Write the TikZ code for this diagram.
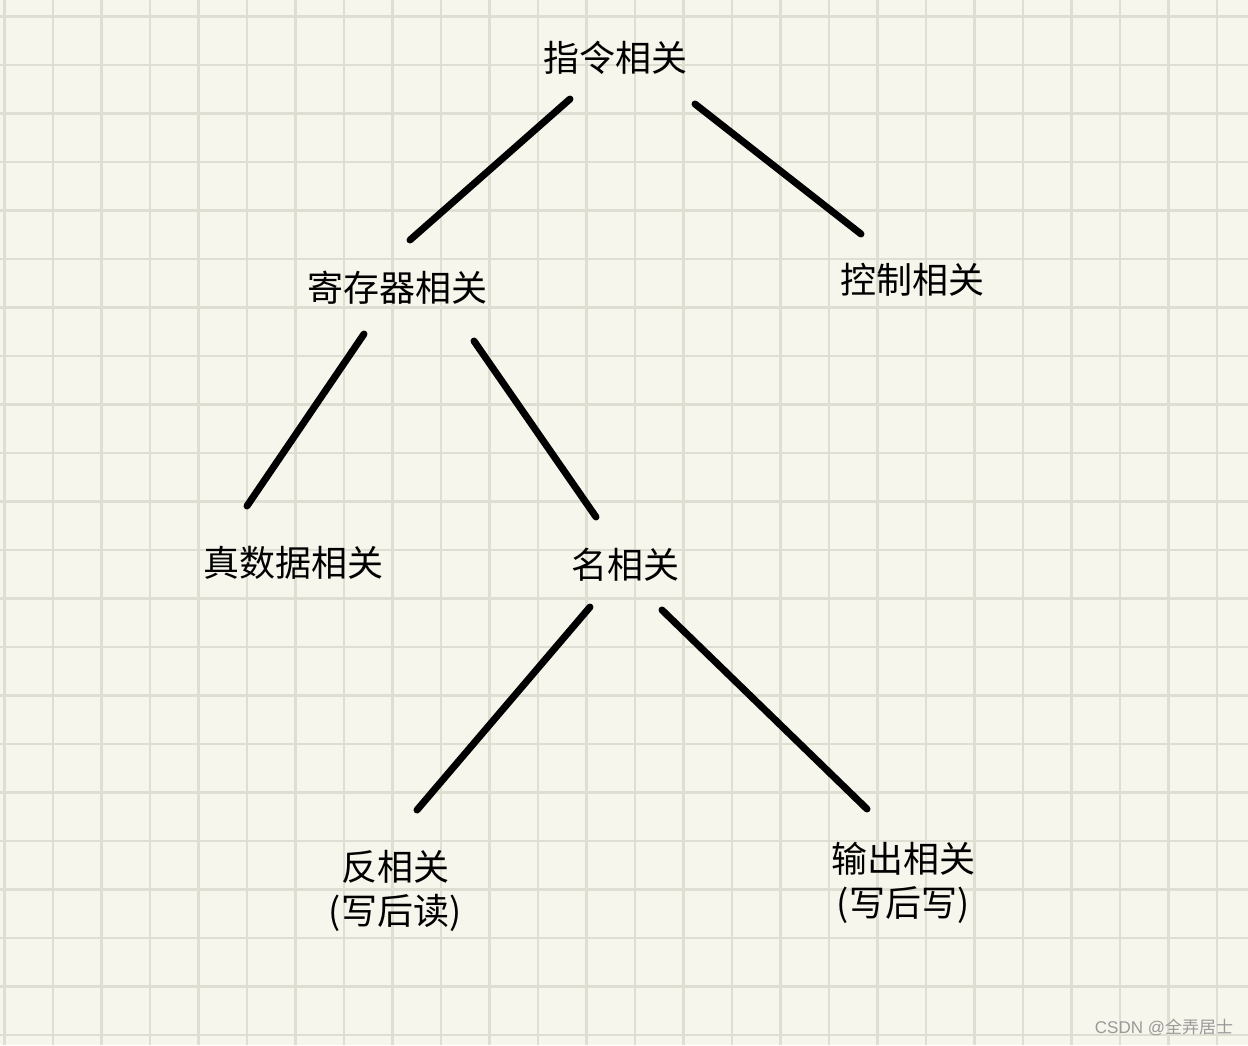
\documentclass[tikz,border=0pt]{standalone}
\usepackage{fontspec}
\newfontfamily\cjk{Noto Sans CJK SC}
\definecolor{paper}{HTML}{F7F6EC}
\definecolor{gridc}{HTML}{DEDED3}
\begin{document}
\begin{tikzpicture}[x=1pt,y=-1pt,
  lbl/.style={font=\cjk\fontsize{36}{44}\selectfont, inner sep=0pt, align=center},
  edge/.style={line width=7pt, line cap=round, black}]
\fill[paper] (0,0) rectangle (1248,1045);
\useasboundingbox (0,0) rectangle (1248,1045);
\foreach \i in {0,...,25} {\draw[gridc, line width=2.5pt] (4.5+48.5*\i,0) -- (4.5+48.5*\i,1045);}
\foreach \j in {0,...,21} {\draw[gridc, line width=2.5pt] (0,16.5+48.5*\j) -- (1248,16.5+48.5*\j);}
\node[lbl] (a) at (615,58) {指令相关};
\node[lbl] (b) at (397,288) {寄存器相关};
\node[lbl] (c) at (912,280) {控制相关};
\node[lbl] (d) at (293,563) {真数据相关};
\node[lbl] (e) at (625,565) {名相关};
\node[lbl] (f) at (395,891) {反相关\\(写后读)};
\node[lbl] (g) at (903,883) {输出相关\\(写后写)};
\node[font=\fontspec{Liberation Sans}\fontsize{17}{20}\selectfont, text=gray!80, inner sep=0pt] (w) at (1164,1027) {CSDN @{\cjk 全弄居士}};
\coordinate (a1) at (570,99); \coordinate (b1) at (410,240);
\coordinate (a2) at (695,104); \coordinate (c1) at (861,234);
\coordinate (b2) at (364,334); \coordinate (d1) at (247,506);
\coordinate (b3) at (474,341); \coordinate (e1) at (596,517);
\coordinate (e2) at (590,607); \coordinate (f1) at (417,810);
\coordinate (e3) at (662,610); \coordinate (g1) at (867,809);
\draw[edge] (a1) -- (b1);
\draw[edge] (a2) -- (c1);
\draw[edge] (b2) -- (d1);
\draw[edge] (b3) -- (e1);
\draw[edge] (e2) -- (f1);
\draw[edge] (e3) -- (g1);
\end{tikzpicture}
\end{document}
